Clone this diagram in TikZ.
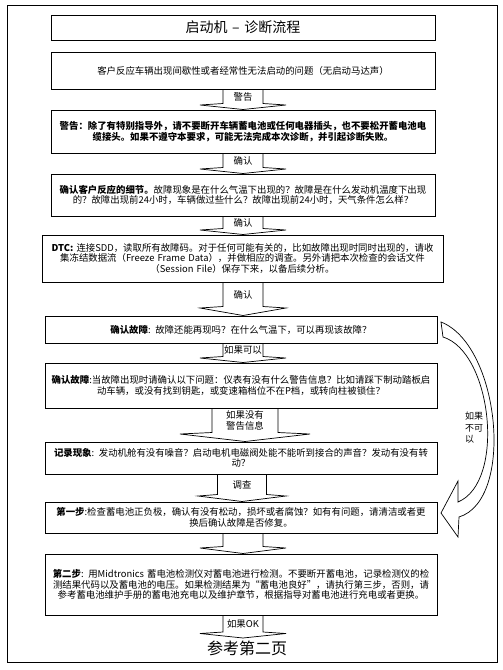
\documentclass[tikz,border=0pt]{standalone}
\usepackage{fontspec}
\setmainfont{Noto Sans CJK SC}
\usetikzlibrary{calc}
\newcommand\bodyfont{\fontsize{9.4}{10.6}\selectfont}
\tikzset{
  box/.style={draw, line width=1pt, inner sep=2pt, align=center, font=\bodyfont},
  arrowline/.style={draw, line width=0.7pt},
  lab/.style={inner sep=0pt, align=center, font=\bodyfont},
  frame/.style={draw, line width=0.8pt},
}
% #1 from, #2 to, #3 centre x, #4 shaft half width, #5 wing half width, #6 head height, #7 label
\newcommand\barr[7]{%
  \draw[arrowline] let \p1=(#1.south), \p2=(#2.north) in
    ({#3pt-#4pt},\y1) -- ({#3pt-#4pt},{\y2+#6pt}) -- ({#3pt-#5pt},{\y2+#6pt-1.5pt})
    -- (#3pt,\y2) -- ({#3pt+#5pt},{\y2+#6pt-1.5pt}) -- ({#3pt+#4pt},{\y2+#6pt})
    -- ({#3pt+#4pt},\y1);
  \path let \p1=(#1.south), \p2=(#2.north) in
    node[lab] (#1-#2) at (#3pt,{(\y1+\y2+#6pt)/2}) {#7};
}
\begin{document}
\begin{tikzpicture}[x=1pt,y=-1pt]
\useasboundingbox (0,0) rectangle (503,670);
\fill[white] (0,0) rectangle (503,670);
\draw[frame] (7,5) rectangle (497,662);

\node[box, text width=380pt, minimum height=25pt, font=\fontsize{14}{16}\selectfont] (t) at (243,27.5) {启动机 – 诊断流程};
\node[box, text width=380pt, minimum height=37pt] (b1) at (243,70.5) {客户反应车辆出现间歇性或者经常性无法启动的问题（无启动马达声）};
\node[box, text width=380pt, minimum height=43pt] (b2) at (243,131.5) {\textbf{警告：除了有特别指导外，请不要断开车辆蓄电池或任何电器插头，也不要松开蓄电池电\\缆接头。如果不遵守本要求，可能无法完成本次诊断，并引起诊断失败。}};
\node[box, text width=380pt, minimum height=42pt] (b3) at (243,195) {\textbf{确认客户反应的细节。}故障现象是在什么气温下出现的？故障是在什么发动机温度下出现\\的？故障出现前24小时，车辆做过些什么？故障出现前24小时，天气条件怎么样？};
\node[box, text width=397pt, minimum height=47pt] (b4) at (242.5,258.5) {\textbf{DTC:} 连接SDD，读取所有故障码。对于任何可能有关的，比如故障出现时同时出现的，请收\\集冻结数据流（Freeze Frame Data），并做相应的调查。另外请把本次检查的会话文件\\（Session File）保存下来，以备后续分析。};
\node[box, text width=388pt, minimum height=27pt] (b5) at (241,329.5) {\textbf{确认故障}: 故障还能再现吗？在什么气温下，可以再现该故障？};
\node[box, text width=388pt, minimum height=45pt] (b6) at (241,385.5) {\textbf{确认故障}:当故障出现时请确认以下问题：仪表有没有什么警告信息？比如请踩下制动踏板启\\动车辆，或没有找到钥匙，或变速箱档位不在P档，或转向柱被锁住？};
\node[box, text width=388pt, minimum height=32pt] (b7) at (241,458) {\textbf{记录现象}: 发动机舱有没有噪音？启动电机电磁阀处能不能听到接合的声音？发动有没有转\\动？};
\node[box, text width=388pt, minimum height=31pt] (b8) at (241,517.5) {\textbf{第一步}:检查蓄电池正负极，确认有没有松动，损坏或者腐蚀？如有有问题，请清洁或者更\\换后确认故障是否修复。};
\node[box, text width=388pt, minimum height=61pt] (b9) at (241,584.5) {\textbf{第二步}: 用Midtronics 蓄电池检测仪对蓄电池进行检测。不要断开蓄电池，记录检测仪的检\\测结果代码以及蓄电池的电压。如果检测结果为“蓄电池良好”，请执行第三步，否则，请\\参考蓄电池维护手册的蓄电池充电以及维护章节，根据指导对蓄电池进行充电或者更换。};
\node[anchor=north, inner sep=3pt, font=\fontsize{16}{18}\selectfont] (end) at (247,638) {参考第二页};

\barr{b1}{b2}{243}{20}{43}{6}{警告}
\barr{b2}{b3}{243}{20}{43}{6}{确认}
\barr{b3}{b4}{243}{20}{43}{6}{确认}
\barr{b4}{b5}{243}{20}{43}{9}{确认}
\barr{b5}{b6}{243}{20}{43}{6}{如果可以}
\barr{b6}{b7}{245}{33}{65}{9}{如果没有\\警告信息}
\barr{b7}{b8}{242}{24.5}{44}{7}{调查}
\barr{b8}{b9}{243}{20}{43}{7}{}
\barr{b9}{end}{243}{20}{43}{6}{如果OK}

% curved return arrow
\coordinate (ca1) at (441,322);
\coordinate (ca2) at (443,337);
\coordinate (ctip) at (441,513);
\draw[arrowline] (ca1) .. controls (500,345) and (515,500) .. (459,517) -- (458,537) -- (ctip)
  -- (458,481) -- (458,502) .. controls (506,482) and (492,352) .. (ca2) -- cycle;
\node[lab, align=left, anchor=west, font=\fontsize{9}{11.5}\selectfont] (nk) at (465,428) {如果\\不可\\以};
\end{tikzpicture}
\end{document}
